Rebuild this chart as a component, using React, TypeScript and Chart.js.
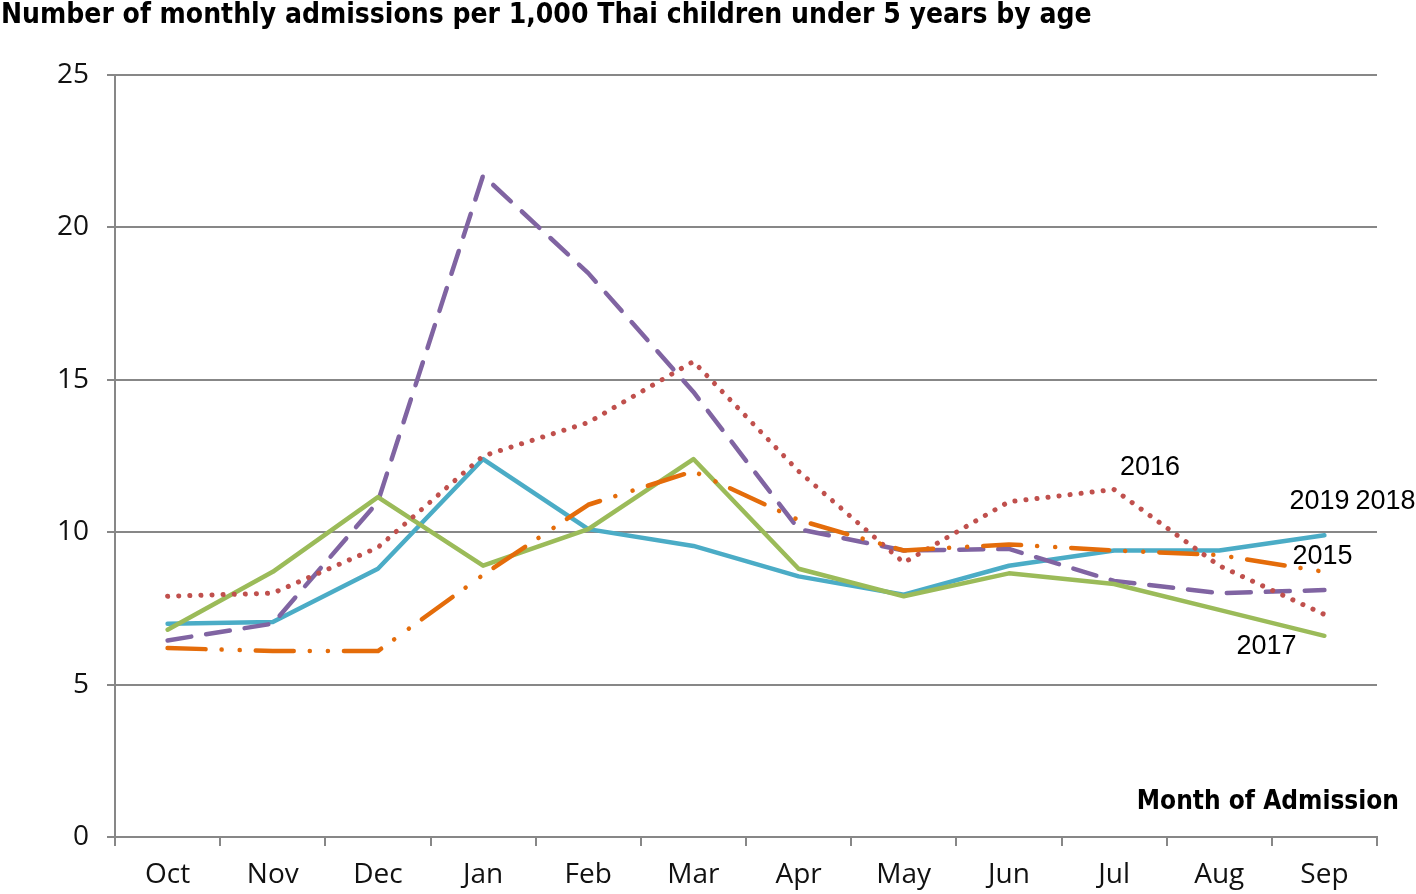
import React, { useEffect, useRef } from "react";
import { Chart, registerables } from "chart.js";

Chart.register(...registerables);

const months = ["Oct", "Nov", "Dec", "Jan", "Feb", "Mar", "Apr", "May", "Jun", "Jul", "Aug", "Sep"];
const yTicks = [0, 5, 10, 15, 20, 25];

const y2015 = [6.2, 6.1, 6.1, 8.6, 10.9, 12.0, 10.4, 9.4, 9.6, 9.4, 9.25, 8.7];
const y2016 = [7.9, 8.0, 9.5, 12.5, 13.6, 15.6, 12.0, 9.0, 11.0, 11.4, 8.9, 7.3];
const y2017 = [6.8, 8.7, 11.15, 8.9, 10.1, 12.4, 8.8, 7.9, 8.65, 8.3, 7.45, 6.6];
const y2018 = [6.45, 7.0, 11.0, 21.7, 18.5, 14.6, 10.1, 9.4, 9.45, 8.4, 8.0, 8.1];
const y2019 = [7.0, 7.05, 8.8, 12.4, 10.1, 9.55, 8.55, 7.95, 8.9, 9.4, 9.4, 9.9];

const titleText = "Number of monthly admissions per 1,000 Thai children under 5 years by age";
const xAxisTitle = "Month of Admission";

// series label: [text, dataset index, month index, dx, dy]
const seriesLabels: [string, number, number, number, number][] = [
  ["2016", 1, 9, 36, -22],
  ["2019", 4, 11, -5, -34],
  ["2018", 3, 11, 61, -89],
  ["2015", 0, 11, -2, -15],
  ["2017", 2, 11, -58, 11],
];

const tickFont = "'Open Sans', sans-serif";

export default function App() {
  const ref = useRef<HTMLCanvasElement | null>(null);
  useEffect(() => {
    if (!ref.current) return;
    const overlay = {
      id: "overlay",
      afterDraw(chart: any) {
        const ctx = chart.ctx;
        const xs = chart.scales.x;
        const ys = chart.scales.y;
        ctx.save();
        ctx.fillStyle = "#000";
        ctx.textBaseline = "middle";
        ctx.textAlign = "left";
        ctx.font = "bold 28px 'DejaVu Sans Condensed', 'DejaVu Sans', sans-serif";
        ctx.fillText(titleText, 1, 16);
        ctx.textAlign = "right";
        ctx.font = "bold 26px 'DejaVu Sans Condensed', 'DejaVu Sans', sans-serif";
        ctx.fillText(xAxisTitle, chart.chartArea.right + 22, 802);
        ctx.textAlign = "center";
        ctx.font = "27px 'Liberation Sans', sans-serif";
        for (const [txt, di, mi, dx, dy] of seriesLabels) {
          const v = chart.data.datasets[di].data[mi];
          ctx.fillText(txt, xs.getPixelForValue(mi) + dx, ys.getPixelForValue(v) + dy);
        }
        ctx.restore();
      },
    };
    const common = {
      fill: false,
      pointRadius: 0,
      tension: 0,
      borderWidth: 4.5,
      borderCapStyle: "round",
      borderJoinStyle: "round",
    };
    const chart = new Chart(ref.current, {
      type: "line",
      data: {
        labels: months,
        datasets: [
          { ...common, label: "2015", data: y2015, borderColor: "#E46C0A", borderDash: [38, 16, 0.1, 18, 0.1, 16] },
          { ...common, label: "2016", data: y2016, borderColor: "#C0504D", borderDash: [0.1, 11], borderWidth: 5 },
          { ...common, label: "2017", data: y2017, borderColor: "#9BBB59" },
          { ...common, label: "2018", data: y2018, borderColor: "#8064A2", borderDash: [24, 15] },
          { ...common, label: "2019", data: y2019, borderColor: "#4BACC6" },
        ] as any,
      },
      options: {
        animation: false,
        responsive: false,
        maintainAspectRatio: false,
        layout: { padding: { top: 75, right: 39, left: 0, bottom: 0 } },
        plugins: { legend: { display: false }, tooltip: { enabled: false }, title: { display: false } },
        scales: {
          x: {
            offset: true,
            grid: { offset: true, drawOnChartArea: false, drawTicks: true, tickLength: 9, color: "#878787", lineWidth: 2 },
            border: { display: true, color: "#878787", width: 2 },
            ticks: { color: "#111", font: { family: tickFont, size: 28 }, padding: 12, maxRotation: 0, autoSkip: false },
            afterFit(scale: any) { scale.height = 894 - 837; },
          },
          y: {
            min: 0,
            max: 25,
            afterBuildTicks(scale: any) { scale.ticks = yTicks.map((v) => ({ value: v })); },
            grid: { color: "#878787", lineWidth: 2, tickLength: 8 },
            border: { display: true, color: "#878787", width: 2 },
            ticks: { color: "#111", font: { family: tickFont, size: 28 }, padding: 18 },
            afterFit(scale: any) { scale.width = 115; },
          },
        },
      },
      plugins: [overlay],
    } as any);
    return () => chart.destroy();
  }, []);
  return (
    <div style={{ position: "absolute", left: 0, top: 0, width: 1416, height: 894, background: "#fff" }}>
      <canvas ref={ref} width={1416} height={894} style={{ display: "block" }} />
    </div>
  );
}
